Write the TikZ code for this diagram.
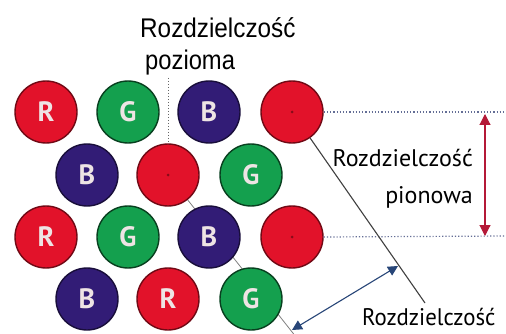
\documentclass[tikz,border=0pt]{standalone}
\usepackage{fontspec}
\setmainfont{Liberation Sans}
\newfontfamily\labfont{Liberation Sans}
\newfontfamily\sidefont{PT Sans}
\usetikzlibrary{arrows.meta}

\definecolor{pixred}{RGB}{226,18,42}
\definecolor{pixgreen}{RGB}{20,160,78}
\definecolor{pixblue}{RGB}{50,28,118}
\definecolor{letter}{RGB}{238,228,228}
\definecolor{arrred}{RGB}{180,25,55}
\definecolor{arrblue}{RGB}{40,70,120}
\definecolor{guide}{RGB}{100,110,150}

\tikzset{
  pix/.style={circle, minimum size=62pt, inner sep=0pt, line width=1.4pt,
    font=\sidefont\bfseries\fontsize{28}{28}\selectfont, text=letter},
  rpix/.style={pix, fill=pixred, draw=pixred!50!black},
  gpix/.style={pix, fill=pixgreen, draw=pixgreen!40!black},
  bpix/.style={pix, fill=pixblue, draw=pixblue!50!black},
  dotpix/.style={rpix, path picture={\fill[pixred!60!black] (path picture bounding box.center) circle (1.5pt);}},
  guideline/.style={guide, line width=1.2pt, dotted},
  toptext/.style={inner sep=0pt, font=\labfont\fontsize{27}{27}\selectfont},
  sidetext/.style={inner sep=0pt, font=\sidefont\fontsize{24}{24}\selectfont},
}

\begin{document}
\begin{tikzpicture}[x=1pt, y=-1pt]
  \clip (0,0) rectangle (506,334);
  \fill[white] (0,0) rectangle (506,334);

  % captions
  \node[toptext, anchor=base west] (th) at (140,38) {\scalebox{0.9}[1]{Rozdzielczość}};
  \node[toptext, anchor=base west] (tp) at (145,70) {\scalebox{0.88}[1]{pozioma}};

  % guide lines behind the pixels
  \coordinate (vtop) at (168,78);
  \coordinate (h1end) at (506,112);
  \coordinate (h3end) at (506,236);
  \coordinate (diagend) at (425,303);
  \coordinate (d0) at (168,175);
  \coordinate (d1) at (300,342);

  \draw[gray, line width=0.8pt] (d0) -- (d1);

  % pixel grid
  \node[rpix] (c11) at (46,112) {R};
  \node[gpix] (c12) at (128,112) {G};
  \node[bpix] (c13) at (209,112) {B};
  \node[dotpix] (c14) at (292,112) {};

  \node[bpix] (c21) at (87,175) {B};
  \node[dotpix] (c22) at (168,175) {};
  \node[gpix] (c23) at (251,175) {G};

  \node[rpix] (c31) at (46,237) {R};
  \node[gpix] (c32) at (128,237) {G};
  \node[bpix] (c33) at (209,237) {B};
  \node[dotpix] (c34) at (292,237) {};

  \node[bpix] (c41) at (87,299) {B};
  \node[rpix] (c42) at (168,299) {R};
  \node[gpix] (c43) at (251,299) {G};

  % resolution markers
  \draw[gray!80!black, line width=1pt, dotted] (vtop) -- (c22.north);
  \draw[guideline] (c14.east) -- (h1end);
  \draw[guideline] (c34.east) -- (h3end);

  \coordinate (va) at (485,114);
  \coordinate (vb) at (485,236);
  \draw[arrred, line width=1.1pt, {Triangle[length=11pt,width=11pt]}-{Triangle[length=11pt,width=11pt]}] (va) -- (vb);

  \draw[black!75, line width=1.1pt] (c14) -- (diagend);

  \coordinate (ba) at (292,330);
  \coordinate (bb) at (398,266);
  \draw[arrblue, line width=1.1pt, {Triangle[length=10pt,width=10pt]}-{Triangle[length=10pt,width=10pt]}] (ba) -- (bb);

  \node[sidetext, anchor=base east] (sv1) at (473,167) {Rozdzielczość};
  \node[sidetext, anchor=base east] (sv2) at (473,203) {pionowa};
  \node[sidetext, anchor=base west, text depth=0pt] (sd1) at (362,325) {\scalebox{0.95}[1]{Rozdzielczość}};
\end{tikzpicture}
\end{document}
